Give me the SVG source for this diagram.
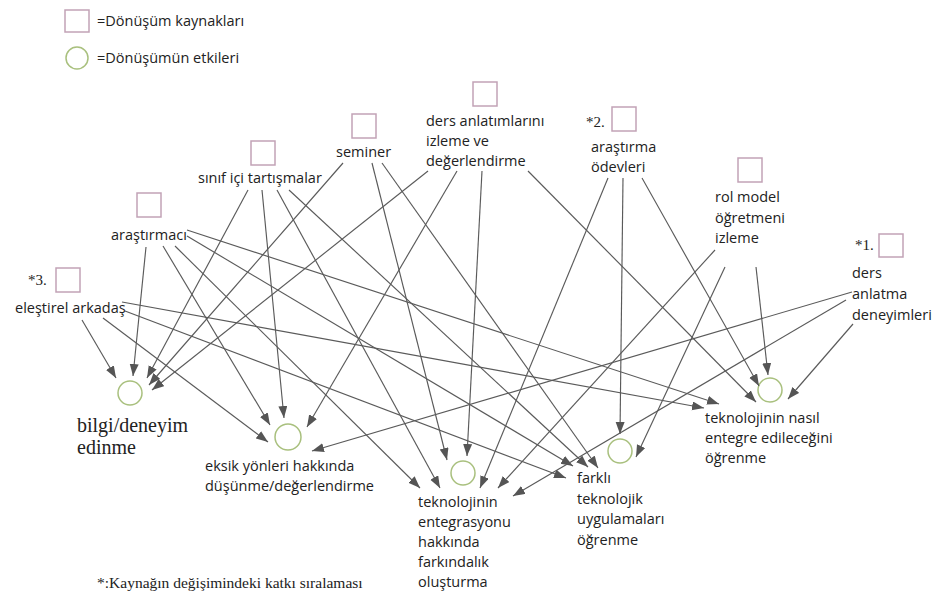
<svg xmlns="http://www.w3.org/2000/svg" width="935" height="598" viewBox="0 0 935 598">
  <defs>
    <style>
      .src { fill: none; stroke: #c2a3b6; stroke-width: 1.5; }
      .eff { fill: none; stroke: #a9c07e; stroke-width: 1.5; }
      .lbl { font-family: "Open Sans", "Noto Sans", "DejaVu Sans", sans-serif; font-size: 14.5px; fill: #222; }
      .ser { font-family: "Liberation Serif", "Times New Roman", serif; fill: #222; }
      .edge { fill: none; stroke: #5a5a5a; stroke-width: 1.15; marker-end: url(#arrow); }
    </style>
    <marker id="arrow" markerUnits="userSpaceOnUse" markerWidth="13" markerHeight="10" refX="12" refY="4.5" orient="auto">
      <path d="M0,0 L12,4.5 L0,9 z" fill="#555"/>
    </marker>
  </defs>
  <rect width="935" height="598" fill="#ffffff"/>

  <!-- legend -->
  <g id="legend">
    <rect class="src" x="65" y="10" width="24" height="22"/>
    <text class="lbl" x="97" y="26">=Dönüşüm kaynakları</text>
    <circle class="eff" cx="77" cy="58" r="11"/>
    <text class="lbl" x="97" y="63">=Dönüşümün etkileri</text>
  </g>

  <!-- sources -->
  <g id="src-arastirmaci">
    <rect class="src" x="137" y="193" width="24" height="24"/>
    <text class="lbl" x="111" y="240">araştırmacı</text>
  </g>
  <g id="src-elestirel">
    <text class="ser" x="28" y="285" font-size="15">*3.</text>
    <rect class="src" x="56" y="268" width="24" height="24"/>
    <text class="lbl" x="15" y="313">eleştirel arkadaş</text>
  </g>
  <g id="src-sinif">
    <rect class="src" x="251" y="141" width="24" height="24"/>
    <text class="lbl" x="198" y="183">sınıf içi tartışmalar</text>
  </g>
  <g id="src-seminer">
    <rect class="src" x="352" y="114" width="24" height="24"/>
    <text class="lbl" x="336" y="157">seminer</text>
  </g>
  <g id="src-ders-izleme">
    <rect class="src" x="473" y="82" width="24" height="24"/>
    <text class="lbl" x="426" y="126">ders anlatımlarını</text>
    <text class="lbl" x="426" y="146">izleme ve</text>
    <text class="lbl" x="426" y="166">değerlendirme</text>
  </g>
  <g id="src-odev">
    <text class="ser" x="586" y="127" font-size="15">*2.</text>
    <rect class="src" x="612" y="107" width="24" height="24"/>
    <text class="lbl" x="591" y="152">araştırma</text>
    <text class="lbl" x="591" y="172">ödevleri</text>
  </g>
  <g id="src-rolmodel">
    <rect class="src" x="738" y="158" width="24" height="24"/>
    <text class="lbl" x="715" y="202">rol model</text>
    <text class="lbl" x="715" y="223">öğretmeni</text>
    <text class="lbl" x="715" y="243">izleme</text>
  </g>
  <g id="src-deneyim">
    <text class="ser" x="855" y="250" font-size="15">*1.</text>
    <rect class="src" x="879" y="234" width="24" height="23"/>
    <text class="lbl" x="852" y="278">ders</text>
    <text class="lbl" x="852" y="299">anlatma</text>
    <text class="lbl" x="852" y="320">deneyimleri</text>
  </g>

  <!-- effects -->
  <g id="eff-bilgi">
    <circle class="eff" cx="130" cy="393" r="12"/>
    <text class="ser" x="77" y="432" font-size="20">bilgi/deneyim</text>
    <text class="ser" x="77" y="454" font-size="20">edinme</text>
  </g>
  <g id="eff-eksik">
    <circle class="eff" cx="288" cy="437" r="13"/>
    <text class="lbl" x="205" y="471">eksik yönleri hakkında</text>
    <text class="lbl" x="205" y="491">düşünme/değerlendirme</text>
  </g>
  <g id="eff-farkindalik">
    <circle class="eff" cx="463" cy="473" r="12"/>
    <text class="lbl" x="418" y="507">teknolojinin</text>
    <text class="lbl" x="418" y="527">entegrasyonu</text>
    <text class="lbl" x="418" y="547">hakkında</text>
    <text class="lbl" x="418" y="567">farkındalık</text>
    <text class="lbl" x="418" y="587">oluşturma</text>
  </g>
  <g id="eff-farkli">
    <circle class="eff" cx="620" cy="451" r="12"/>
    <text class="lbl" x="577" y="483">farklı</text>
    <text class="lbl" x="577" y="504">teknolojik</text>
    <text class="lbl" x="577" y="524">uygulamaları</text>
    <text class="lbl" x="577" y="545">öğrenme</text>
  </g>
  <g id="eff-nasil">
    <circle class="eff" cx="770" cy="390" r="12"/>
    <text class="lbl" x="705" y="423">teknolojinin nasıl</text>
    <text class="lbl" x="705" y="443">entegre edileceğini</text>
    <text class="lbl" x="705" y="463">öğrenme</text>
  </g>

  <!-- connectors -->
  <g id="connectors">
    <!-- eleştirel arkadaş -->
    <line class="edge" x1="82" y1="320" x2="116" y2="378"/>
    <line class="edge" x1="103" y1="318" x2="268" y2="442"/>
    <line class="edge" x1="122" y1="302" x2="704" y2="408"/>
    <line class="edge" x1="125" y1="311" x2="566" y2="478"/>
    <!-- araştırmacı -->
    <line class="edge" x1="146" y1="247" x2="133" y2="376"/>
    <line class="edge" x1="163" y1="246" x2="270" y2="425"/>
    <line class="edge" x1="175" y1="246" x2="420" y2="488"/>
    <line class="edge" x1="187" y1="230" x2="719" y2="404"/>
    <line class="edge" x1="187" y1="236" x2="573" y2="466"/>
    <!-- sınıf içi tartışmalar -->
    <line class="edge" x1="248" y1="190" x2="147" y2="378"/>
    <line class="edge" x1="262" y1="190" x2="284" y2="418"/>
    <line class="edge" x1="277" y1="190" x2="440" y2="488"/>
    <line class="edge" x1="289" y1="190" x2="588" y2="467"/>
    <!-- seminer -->
    <line class="edge" x1="343" y1="163" x2="149" y2="385"/>
    <line class="edge" x1="372" y1="163" x2="447" y2="460"/>
    <line class="edge" x1="382" y1="163" x2="598" y2="468"/>
    <!-- ders anlatımlarını izleme ve değerlendirme -->
    <line class="edge" x1="428" y1="171" x2="152" y2="390"/>
    <line class="edge" x1="457" y1="171" x2="307" y2="427"/>
    <line class="edge" x1="482" y1="171" x2="467" y2="456"/>
    <line class="edge" x1="528" y1="171" x2="756" y2="402"/>
    <!-- araştırma ödevleri -->
    <line class="edge" x1="608" y1="178" x2="480" y2="488"/>
    <line class="edge" x1="623" y1="178" x2="620" y2="434"/>
    <line class="edge" x1="642" y1="178" x2="759" y2="386"/>
    <!-- rol model öğretmeni izleme -->
    <line class="edge" x1="715" y1="250" x2="498" y2="488"/>
    <line class="edge" x1="725" y1="267" x2="636" y2="457"/>
    <line class="edge" x1="756" y1="267" x2="768" y2="375"/>
    <!-- ders anlatma deneyimleri -->
    <line class="edge" x1="852" y1="292" x2="312" y2="451"/>
    <line class="edge" x1="846" y1="300" x2="513" y2="496"/>
    <line class="edge" x1="853" y1="324" x2="788" y2="399"/>
  </g>

  <!-- footnote -->
  <text class="ser" x="97" y="588" font-size="15.5">*:Kaynağın değişimindeki katkı sıralaması</text>
</svg>
